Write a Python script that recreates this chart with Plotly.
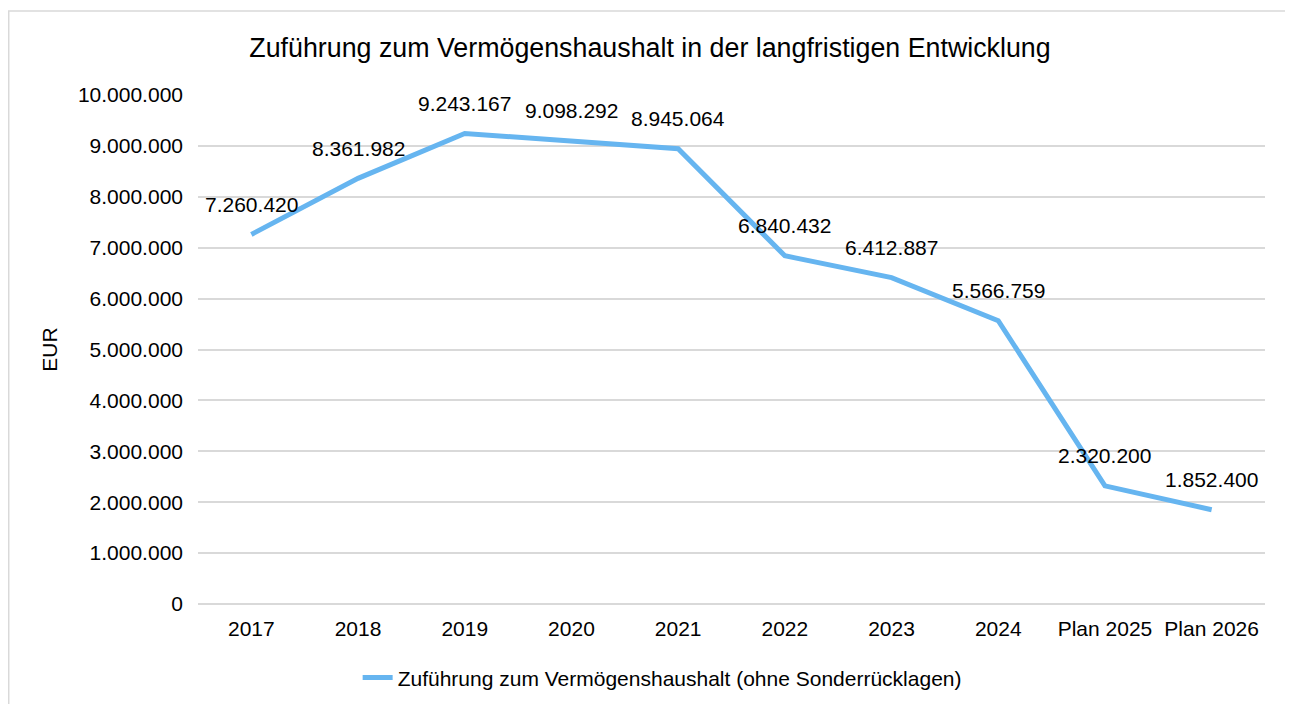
import plotly.graph_objects as go

# values
jahre = ["2017", "2018", "2019", "2020", "2021", "2022", "2023", "2024", "Plan 2025", "Plan 2026"]
zufuehrung = [7260420, 8361982, 9243167, 9098292, 8945064, 6840432, 6412887, 5566759, 2320200, 1852400]
y_ticks = [0, 1000000, 2000000, 3000000, 4000000, 5000000, 6000000, 7000000, 8000000, 9000000, 10000000]

series_name = "Zuführung zum Vermögenshaushalt (ohne Sonderrücklagen)"
title = "Zuführung zum Vermögenshaushalt in der langfristigen Entwicklung"
line_color = "#66B5F0"
grid_color = "#D9D9D9"
font_family = "Liberation Sans, Arial, sans-serif"
fs = 21


def de_format(v):
	return f"{v:,}".replace(",", ".")


fig = go.Figure()
fig.add_trace(go.Scatter(
	x=jahre, y=zufuehrung, mode="lines", name=series_name,
	line=dict(color=line_color, width=5),
	hoverinfo="skip",
))

# data labels above each point (x as category index, so "2017" is not read as a number)
for i, v in enumerate(zufuehrung):
	fig.add_annotation(x=i, y=v, text=de_format(v), showarrow=False,
		yshift=30, font=dict(size=fs, color="#000000"))

fig.update_layout(
	width=1293, height=704,
	paper_bgcolor="white", plot_bgcolor="white",
	separators=",.",
	font=dict(family=font_family, size=fs, color="#000000"),
	margin=dict(l=190, r=36, t=87, b=108, autoexpand=False),
	title=dict(text=title, x=(650 - 8) / 1293, xref="container", xanchor="center",
		y=1 - 40 / 704, yanchor="middle",
		font=dict(size=26.8, color="#000000")),
	showlegend=True,
	legend=dict(orientation="h", x=0.435, xanchor="center", y=-0.145, yanchor="middle",
		font=dict(size=fs)),
	shapes=[dict(type="rect", xref="paper", yref="paper",
		x0=-0.1774, x1=1.0244, y0=-0.25, y1=1.165,
		line=dict(color=grid_color, width=1.5), fillcolor="rgba(0,0,0,0)", layer="below")],
)

fig.update_xaxes(
	type="category", range=[-0.5, 9.5], showgrid=False, showline=False,
	ticks="", ticklabelstandoff=10, tickfont=dict(size=fs), fixedrange=True,
)
fig.update_yaxes(
	range=[0, 10000000], tickvals=y_ticks, ticktext=[de_format(t) for t in y_ticks],
	showgrid=True, gridcolor=grid_color, gridwidth=1.5,
	zeroline=True, zerolinecolor=grid_color, zerolinewidth=1.5,
	showline=False, ticks="", ticklen=0, ticklabelstandoff=14, tickfont=dict(size=fs),
	title=dict(text="EUR", font=dict(size=fs), standoff=14),
	fixedrange=True,
)

fig.write_html("out.html")
